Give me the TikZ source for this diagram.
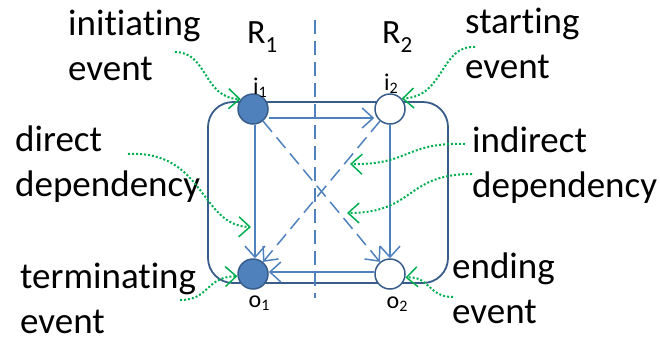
\documentclass[tikz,border=0pt]{standalone}
\usepackage{fontspec}
\setmainfont{Carlito}[Ligatures=CommonOff]
\usetikzlibrary{arrows.meta}
\definecolor{evtBlue}{RGB}{79,129,189}
\definecolor{evtEdge}{RGB}{56,93,138}
\definecolor{depBlue}{RGB}{79,129,189}
\definecolor{noteGreen}{RGB}{0,176,80}

\begin{document}
\begin{tikzpicture}[x=1pt,y=-1pt,
    region/.style={draw=evtEdge,line width=1.8pt,rounded corners=25pt},
    evt/.style={circle,draw=evtEdge,line width=1.5pt,fill=white,
                minimum size=30pt,inner sep=0pt},
    fired/.style={evt,fill=evtBlue},
    dep/.style={draw=depBlue,line width=1.5pt,
                -{Straight Barb[length=11pt,width=20pt]}},
    indep/.style={dep,dash pattern=on 14pt off 7pt},
    note/.style={draw=noteGreen,line width=2pt,dash pattern=on 2pt off 2pt,
                 -{Straight Barb[length=11pt,width=20pt,line width=1.5pt]}},
    txt/.style={font=\fontsize{37}{45}\selectfont,align=left,
                inner sep=0pt,anchor=base west},
    idx/.style={font=\fontsize{24}{24}\selectfont,inner sep=0pt,anchor=base}]

  \useasboundingbox (0,0) rectangle (660,341);

  % the two regions and the split between them
  \draw[region] (208,102) rectangle (448,283);
  \coordinate (sepTop) at (315,20);
  \coordinate (sepBot) at (315,298);
  \draw[depBlue,line width=1.5pt,dash pattern=on 14pt off 7pt] (sepTop) -- (sepBot);
  \node[txt,font=\fontsize{34}{34}\selectfont] (r1) at (247,43)
    {R\raisebox{-9pt}{\fontsize{23}{23}\selectfont 1}};
  \node[txt,font=\fontsize{34}{34}\selectfont] (r2) at (382,43)
    {R\raisebox{-9pt}{\fontsize{23}{23}\selectfont 2}};

  % events
  \node[fired] (i1) at (253,109) {};
  \node[evt]   (i2) at (390,109) {};
  \node[fired] (o1) at (253,274) {};
  \node[evt]   (o2) at (390,274) {};
  \node[idx] (i1lbl) at (260,94) {i\raisebox{-3pt}{\fontsize{16}{16}\selectfont 1}};
  \node[idx] (i2lbl) at (391,90) {i\raisebox{-3pt}{\fontsize{16}{16}\selectfont 2}};
  \node[idx] (o1lbl) at (259,307) {o\raisebox{-3pt}{\fontsize{16}{16}\selectfont 1}};
  \node[idx] (o2lbl) at (397,308) {o\raisebox{-3pt}{\fontsize{16}{16}\selectfont 2}};

  % dependencies
  \draw[dep] ([yshift=-9pt]i1.east) -- ([yshift=-9pt]i2.west);
  \draw[dep] ([xshift=2pt]i1.south) -- ([xshift=2pt]o1.north);
  \draw[dep] (i2.south) -- (o2.north);
  \draw[dep] ([yshift=2pt]o2.west) -- ([yshift=2pt]o1.east);
  \draw[indep] (i1) -- (o2);
  \draw[indep] (i2) -- (o1);

  % the notes round it (anchored on the baseline of their second line)
  \node[txt] (init)     at (68,80)   {initiating\\event};
  \node[txt] (direct)   at (15,196)  {direct\\dependency};
  \node[txt] (term)     at (20,333)  {terminating\\event};
  \node[txt] (start)    at (465,78)  {starting\\event};
  \node[txt] (indirect) at (472,197) {indirect\\dependency};
  \node[txt] (ending)   at (452,323) {ending\\event};

  \coordinate (initFrom)  at (175,52);
  \coordinate (dirFrom)   at (128,154);
  \coordinate (dirTo)     at (251,227);
  \coordinate (termFrom)  at (180,300);
  \coordinate (startFrom) at (475,47);
  \coordinate (indFromA)  at (465,144);
  \coordinate (indToA)    at (350,164);
  \coordinate (indFromB)  at (472,174);
  \coordinate (indToB)    at (347,213);
  \coordinate (endFrom)   at (453,297);

  \draw[note] (initFrom) .. controls (208,52) and (203,98) .. (i1.141);
  \draw[note] (dirFrom) .. controls (205,150) and (200,226) .. (dirTo);
  \draw[note] (termFrom) .. controls (210,300) and (205,277) .. (o1.188);
  \draw[note] (startFrom) .. controls (440,45) and (445,97) .. (i2.42);
  \draw[note] (indFromA) .. controls (405,142) and (410,165) .. (indToA);
  \draw[note] (indFromB) .. controls (405,174) and (415,213) .. (indToB);
  \draw[note] (endFrom) .. controls (428,297) and (430,276) .. (o2.-13);
\end{tikzpicture}
\end{document}
